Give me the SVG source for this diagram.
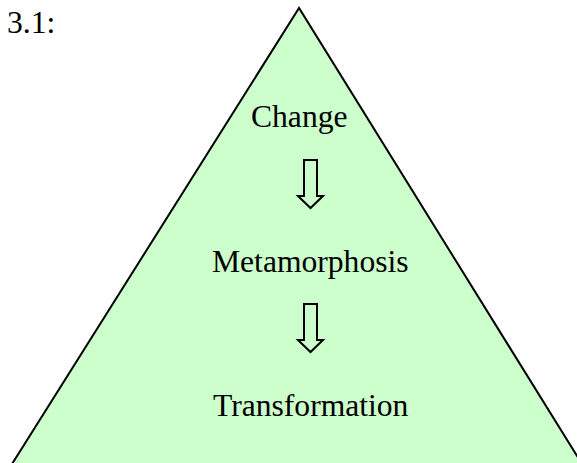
<svg xmlns="http://www.w3.org/2000/svg" width="577" height="463" viewBox="0 0 577 463">
<style>
text{font-family:"Liberation Serif","Times New Roman",serif;font-size:31.6px;fill:#000}
.arrow{fill:#CCFFCC;stroke:#000;stroke-width:2;stroke-linejoin:miter}
</style>
<rect width="577" height="463" fill="#fff"/>
<text x="7" y="33">3.1:</text>
<g id="pyramid">
<polygon points="299,8 12,464 582,464" fill="#CCFFCC" stroke="#000" stroke-width="2"/>
</g>
<g id="change"><text x="251" y="127">Change</text></g>
<g id="metamorphosis"><text x="212" y="272">Metamorphosis</text></g>
<g id="transformation"><text x="213" y="416">Transformation</text></g>
<g id="connectors">
<polygon class="arrow" points="304,160 317,160 317,196 323,196 310.5,208 298,196 304,196"/>
<polygon class="arrow" points="304,304 317,304 317,340 323,340 310.5,352 298,340 304,340"/>
</g>
</svg>
